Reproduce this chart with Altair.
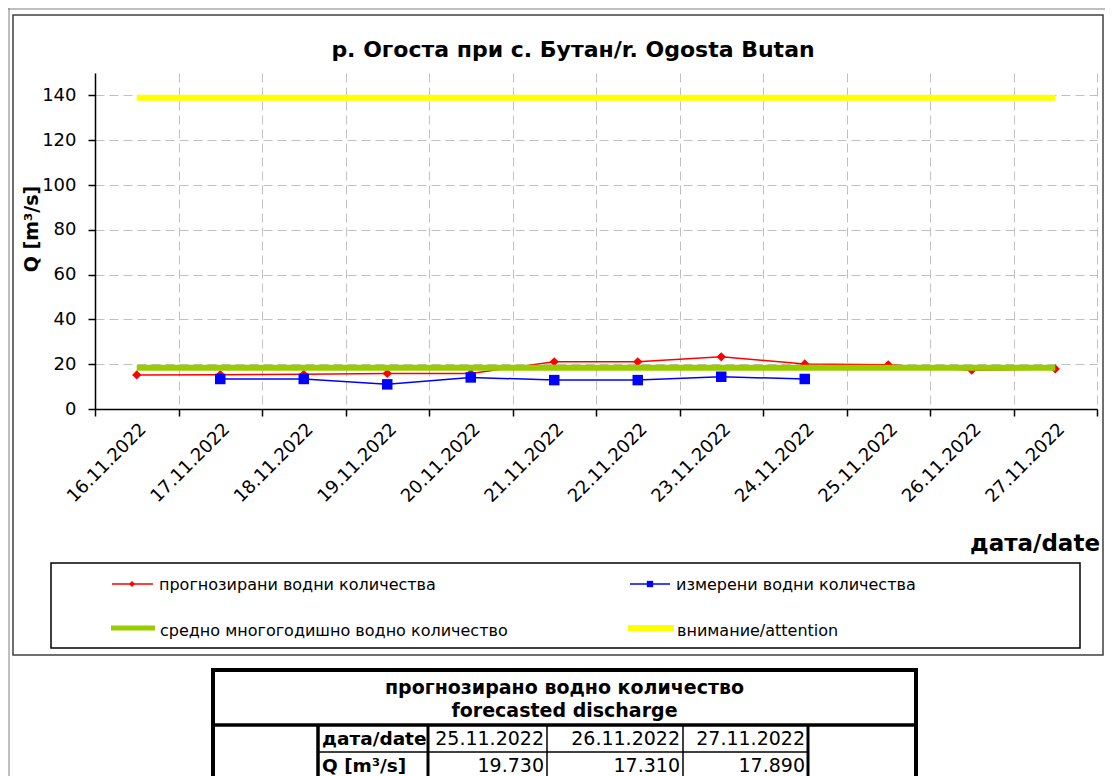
import altair as alt
import pandas as pd

# ---------------- data ----------------
dates = ["16.11.2022", "17.11.2022", "18.11.2022", "19.11.2022", "20.11.2022", "21.11.2022",
         "22.11.2022", "23.11.2022", "24.11.2022", "25.11.2022", "26.11.2022", "27.11.2022"]
forecast = [15.2, 15.3, 15.5, 15.9, 15.9, 21.1, 21.1, 23.3, 20.1, 19.73, 17.31, 17.89]
measured = [None, 13.4, 13.4, 11.0, 14.1, 12.9, 12.9, 14.4, 13.4, None, None, None]
mean_q = [18.4, 18.4, 18.4, 18.4, 18.4, 18.4, 18.4, 18.4, 18.4, 18.4, 18.4, 18.4]
attention = [139.0, 139.0, 139.0, 139.0, 139.0, 139.0, 139.0, 139.0, 139.0, 139.0, 139.0, 139.0]
y_ticks = [0, 20, 40, 60, 80, 100, 120, 140]

title_text = "р. Огоста при с. Бутан/r. Ogosta Butan"
y_title = "Q [m³/s]"
x_title = "дата/date"
legend_labels = ["прогнозирани  водни количества", "измерени  водни количества",
                 "средно многогодишно  водно количество", "внимание/attention"]
table_title = ["прогнозирано водно количество", "forecasted discharge"]
table_row_labels = ["дата/date", "Q [m³/s]"]
table_dates = ["25.11.2022", "26.11.2022", "27.11.2022"]
table_values = [19.730, 17.310, 17.890]

RED, BLUE, GREEN, YELLOW = "#FF0000", "#0000FF", "#99CC00", "#FFFF00"
FONT = "DejaVu Sans"

df = pd.DataFrame({"date": dates, "forecast": forecast, "measured": measured,
                   "mean": mean_q, "attention": attention})
one = pd.DataFrame({"k": [0]})


def xenc():
    return alt.X("date:N", bandPosition=0.5,
                 scale=alt.Scale(type="band", domain=dates, paddingInner=0, paddingOuter=0),
                 axis=alt.Axis(title=None, labelAngle=-45, tickBand="extent", grid=True,
                               labelFont=FONT, labelFontSize=18, labelColor="black",
                               labelPadding=4, tickSize=7, tickColor="black", tickWidth=1.5,
                               domainColor="black", domainWidth=1.5,
                               gridColor="#C0C0C0", gridDash=[9, 5], gridWidth=1))


def yenc(field):
    return alt.Y(f"{field}:Q",
                 scale=alt.Scale(domain=[0, 150], nice=False, zero=True),
                 axis=alt.Axis(title=None, values=y_ticks, grid=True,
                               labelFont=FONT, labelFontSize=18, labelColor="black",
                               labelPadding=12, tickSize=7, tickColor="black", tickWidth=1.5,
                               domainColor="black", domainWidth=1.5,
                               gridColor="#C0C0C0", gridDash=[9, 5], gridWidth=1))


base = alt.Chart(df)
red_line = base.mark_line(color=RED, strokeWidth=1.5).encode(x=xenc(), y=yenc("forecast"))
red_pts = base.mark_point(shape="diamond", filled=True, size=85, color=RED, opacity=1).encode(
    x=xenc(), y=yenc("forecast"))
blue_line = base.mark_line(color=BLUE, strokeWidth=1.5).encode(x=xenc(), y=yenc("measured"))
blue_pts = base.mark_point(shape="square", filled=True, size=110, color=BLUE, opacity=1).encode(
    x=xenc(), y=yenc("measured"))
green_line = base.mark_line(color=GREEN, strokeWidth=6).encode(x=xenc(), y=yenc("mean"))
yellow_line = base.mark_line(color=YELLOW, strokeWidth=6).encode(x=xenc(), y=yenc("attention"))


def deco():
    return alt.Chart(one)


def rect(x, x2, y, y2, stroke="black", width=1.5):
    return deco().mark_rect(fillOpacity=0, stroke=stroke, strokeWidth=width).encode(
        x=alt.value(x), x2=alt.value(x2), y=alt.value(y), y2=alt.value(y2))


def hline(x, x2, y, color="black", width=1.5):
    return deco().mark_rule(color=color, strokeWidth=width).encode(
        x=alt.value(x), x2=alt.value(x2), y=alt.value(y))


def vline(x, y, y2, color="black", width=1.5):
    return deco().mark_rule(color=color, strokeWidth=width).encode(
        x=alt.value(x), y=alt.value(y), y2=alt.value(y2))


def text(t, x, y, size=16, bold=False, align="left", baseline="middle", angle=0):
    kw = dict(text=t, font=FONT, fontSize=size, align=align, baseline=baseline, color="black")
    if bold:
        kw["fontWeight"] = "bold"
    if angle:
        kw["angle"] = angle
    return deco().mark_text(**kw).encode(x=alt.value(x), y=alt.value(y))


layers = []
# outer frames
layers.append(vline(-86, -66, 720, color="#7F7F7F", width=1))
layers.append(hline(-87, 1012, -64, color="#7F7F7F", width=1))
layers.append(rect(-82, 1008, -58, 582, stroke="#404040", width=1.5))

# data
layers += [red_line, red_pts, blue_line, blue_pts, green_line, yellow_line]

# titles
layers.append(text(title_text, 478, -16, size=22, bold=True, align="center", baseline="alphabetic"))
layers.append(text(y_title, -63, 156, size=19, bold=True, align="center", baseline="middle", angle=270))
layers.append(text(x_title, 1005, 478, size=23, bold=True, align="right", baseline="alphabetic"))

# legend
layers.append(rect(-44, 985, 490, 575, width=1.5))
layers.append(hline(17, 58, 511, color=RED, width=1.5))
layers.append(deco().mark_point(shape="diamond", filled=True, size=35, color=RED, opacity=1).encode(
    x=alt.value(37), y=alt.value(511)))
layers.append(text(legend_labels[0], 64, 512, size=16))
layers.append(hline(535, 575, 511, color=BLUE, width=1.5))
layers.append(deco().mark_point(shape="square", filled=True, size=40, color=BLUE, opacity=1).encode(
    x=alt.value(555), y=alt.value(511)))
layers.append(text(legend_labels[1], 581, 512, size=16))
layers.append(hline(16, 60, 555, color=GREEN, width=5))
layers.append(text(legend_labels[2], 65, 558, size=16))
layers.append(hline(533, 579, 555, color=YELLOW, width=6))
layers.append(text(legend_labels[3], 582, 558, size=16))

# forecast table
layers.append(rect(118, 821, 597, 730, width=4))
layers.append(hline(118, 821, 652, width=3.5))
layers.append(vline(223, 652, 730, width=3.5))
layers.append(vline(333, 652, 730, width=3))
layers.append(vline(452, 652, 730, width=1.5))
layers.append(vline(588, 652, 730, width=1.5))
layers.append(vline(713, 652, 730, width=3))
layers.append(hline(223, 713, 679, width=1.5))
layers.append(text(table_title[0], 469.5, 615, size=19, bold=True, align="center"))
layers.append(text(table_title[1], 469.5, 638, size=19, bold=True, align="center"))
layers.append(text(table_row_labels[0], 227, 666, size=18.5, bold=True))
layers.append(text(table_row_labels[1], 227, 693, size=18.5, bold=True))
col_right = [449, 585, 710]
for d, v, xr in zip(table_dates, table_values, col_right):
    layers.append(text(d, xr, 666, size=19, align="right"))
    layers.append(text(f"{v:.3f}", xr, 693, size=19, align="right"))

chart = alt.layer(*layers).properties(
    width=1002, height=336,
    autosize=alt.AutoSizeParams(type="none"),
    padding={"left": 87, "top": 65, "right": 8, "bottom": 367},
    background="white",
).configure_view(strokeWidth=0)

chart.save("out.html", embed_options={"renderer": "svg", "actions": False})
